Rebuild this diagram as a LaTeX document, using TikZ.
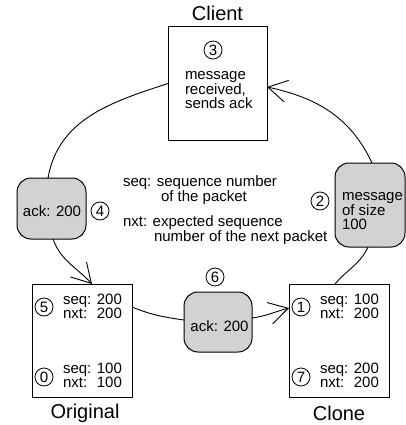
\documentclass[tikz,border=0pt]{standalone}
\usepackage{fontspec}
\setmainfont{Liberation Sans}
\usetikzlibrary{arrows.meta,calc}
\definecolor{boxgray}{RGB}{210,210,210}
\begin{document}
\begin{tikzpicture}[x=1pt,y=-1pt,
  every node/.style={font=\fontsize{15}{14.5}\selectfont, inner sep=0pt, outer sep=0pt},
  sqbox/.style={draw, line width=1pt, rectangle},
  graybox/.style={draw, line width=1pt, rectangle, rounded corners=14pt, fill=boxgray},
  num/.style={circle, draw, line width=0.8pt, minimum size=18pt, inner sep=0pt},
  title/.style={font=\fontsize{20}{24}\selectfont},
  conn/.style={line width=0.9pt},
  arr/.style={-{Straight Barb[length=19pt,width=22pt,line width=0.9pt]}}
]
\useasboundingbox (0,0) rectangle (405,425);

% Client
\node[sqbox, minimum width=99pt, minimum height=113pt] (client) at (217.5,83.5) {};
\node[title] (clientlbl) at (217.5,13) {Client};
\node[num] (n3) at (213,50) {3};
\node[anchor=west, align=left] (clienttxt) at (185,90.5) {message\\received,\\sends ack};

% left ack
\node[graybox, minimum width=69pt, minimum height=61pt] (ackL) at (51.5,208.5) {};
\node (ackLtxt) at (52,211) {ack: 200};
\node[num] (n4) at (100,211) {4};

% message
\node[graybox, minimum width=70pt, minimum height=84pt] (msg) at (370,205) {};
\node[anchor=west, align=left] (msgtxt) at (342,211.5) {message\\of size\\100};
\node[num] (n2) at (320,201) {2};

% legend
\node[anchor=base west] (leg1) at (123,186) {seq: sequence number};
\node[anchor=base west] (leg2) at (161,201) {of the packet};
\node[anchor=base west] (leg3) at (123,226) {nxt: expected sequence};
\node[anchor=base west] (leg4) at (154,241) {number of the next packet};

% Original
\node[sqbox, minimum width=100pt, minimum height=113pt] (orig) at (82,340.5) {};
\node[title] (origlbl) at (85,413) {Original};
\node[num] (n5) at (44,307) {5};
\node[anchor=west] (origt1) at (63,308.5) {\begin{tabular}{@{}l@{ }r@{}}seq: & 200\\ nxt: & 200\end{tabular}};
\node[num] (n0) at (44,377) {0};
\node[anchor=west] (origt2) at (63,377.5) {\begin{tabular}{@{}l@{ }r@{}}seq: & 100\\ nxt: & 100\end{tabular}};

% middle ack
\node[graybox, minimum width=68pt, minimum height=60pt] (ackM) at (218,322) {};
\node (ackMtxt) at (219.5,326) {ack: 200};
\node[num] (n6) at (215,277) {6};

% Clone
\node[sqbox, minimum width=100pt, minimum height=113pt] (clone) at (339,340.5) {};
\node[title] (clonelbl) at (339,413) {Clone};
\node[num] (n1) at (301,307) {1};
\node[anchor=west] (clonet1) at (320,308.5) {\begin{tabular}{@{}l@{ }r@{}}seq: & 100\\ nxt: & 200\end{tabular}};
\node[num] (n7) at (301,377) {7};
\node[anchor=west] (clonet2) at (320,377.5) {\begin{tabular}{@{}l@{ }r@{}}seq: & 200\\ nxt: & 200\end{tabular}};

% connectors
\draw[conn] ($(ackL.north)+(-3.5,0)$) to[out=80,in=198] (client.west);
\draw[conn,arr] ($(ackL.south)+(1.5,0)$) to[out=-70,in=133] ($(orig.north)+(10,0)$);
\draw[conn] ($(orig.north east)+(0,23)$) to[out=-22,in=172] ($(ackM.west)+(0,-2)$);
\draw[conn,arr] ($(ackM.east)+(0,-4)$) to[out=8,in=195] ($(clone.north west)+(0,24)$);
\draw[conn] ($(clone.north)+(-4,0)$) to[out=50,in=245] ($(msg.south)+(-2,0)$);
\draw[conn,arr] ($(msg.north)+(2,0)$) to[out=115,in=-12] ($(client.east)+(0,3.5)$);
\end{tikzpicture}
\end{document}
